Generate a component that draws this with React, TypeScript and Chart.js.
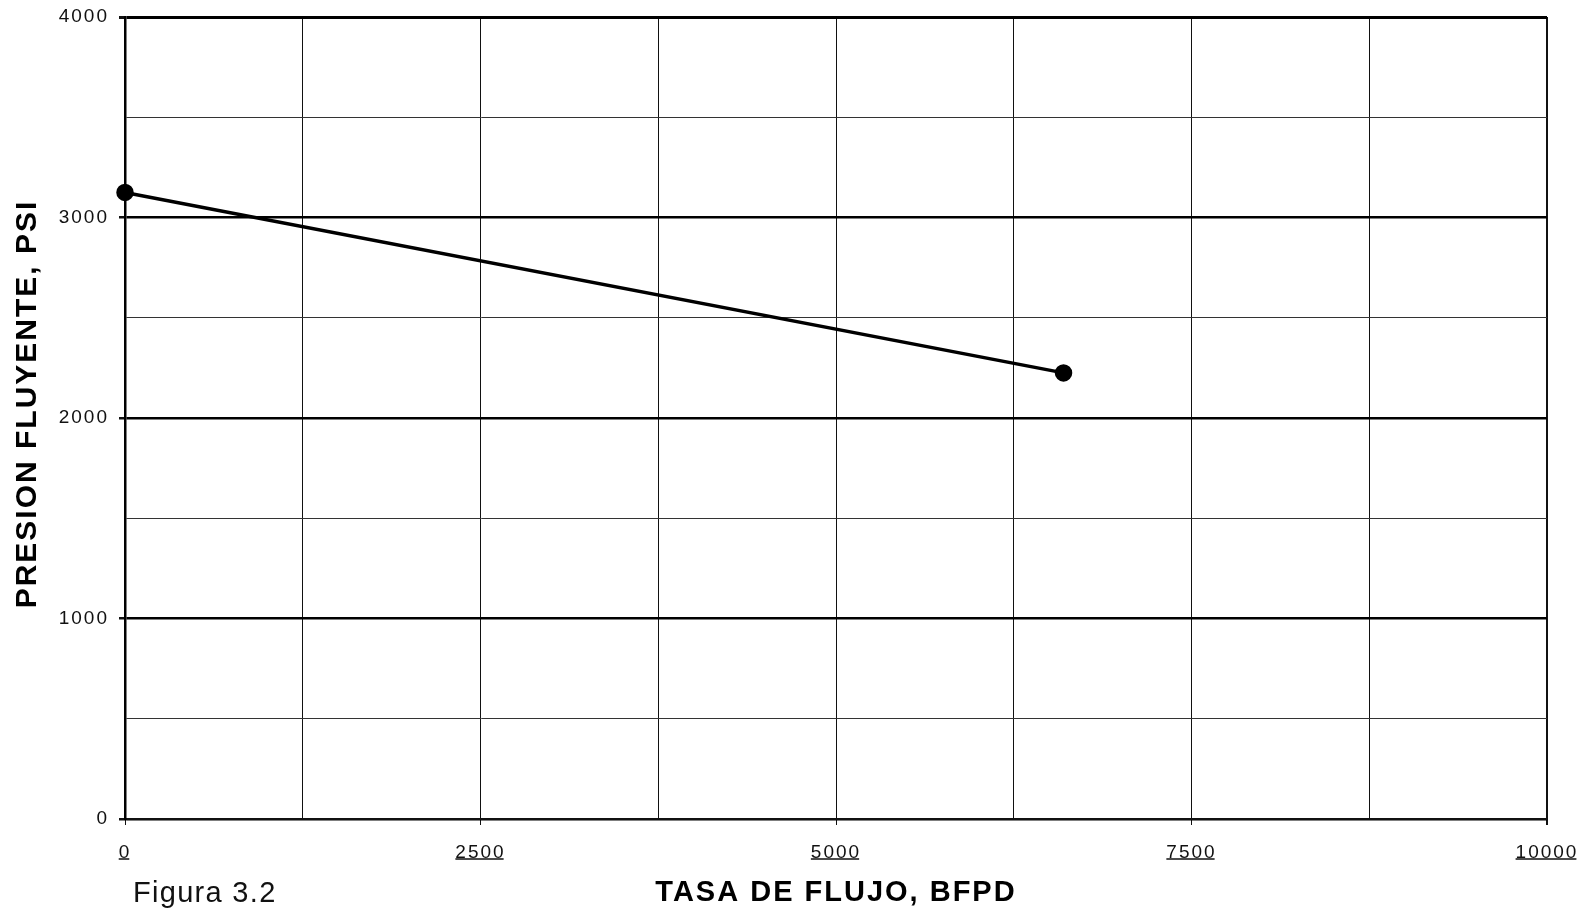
import React, { useEffect, useRef } from 'react';
import { Chart, registerables } from 'chart.js';

Chart.register(...registerables);

// ---- data ----
const rates = [0, 6600];
const pressures = [3125, 2225];
const xTickLabels = [0, 2500, 5000, 7500, 10000];
const yTickLabels = [0, 1000, 2000, 3000, 4000];
const xTitle = 'TASA DE FLUJO, BFPD';
const yTitle = 'PRESION FLUYENTE, PSI';
const caption = 'Figura 3.2';

const FONT = '"Liberation Sans", Arial, Helvetica, sans-serif';

const decorPlugin = {
  id: 'decor',
  beforeDraw(chart: any) {
    chart.ctx.letterSpacing = '2px';
  },
  afterDraw(chart: any) {
    const xs = chart.scales.x;
    const ctx = chart.ctx;
    ctx.save();
    ctx.font = `19px ${FONT}`;
    ctx.letterSpacing = '2px';
    ctx.strokeStyle = '#111';
    ctx.lineWidth = 1.5;
    xs.ticks.forEach((t: any, i: number) => {
      if (!xTickLabels.includes(t.value)) return;
      const label = String(t.value);
      const w = ctx.measureText(label).width - 2;
      const cx = xs.getPixelForTick(i) - 1;
      const y = chart.chartArea.bottom + 40;
      ctx.beginPath();
      ctx.moveTo(cx - w / 2, y);
      ctx.lineTo(cx + w / 2, y);
      ctx.stroke();
    });
    ctx.restore();

    // y-axis title
    const ca = chart.chartArea;
    ctx.save();
    ctx.font = `bold 30px ${FONT}`;
    ctx.letterSpacing = '2px';
    ctx.fillStyle = '#000';
    ctx.textAlign = 'center';
    ctx.textBaseline = 'middle';
    ctx.translate(28, (ca.top + ca.bottom) / 2 - 14);
    ctx.rotate(-Math.PI / 2);
    ctx.fillText(yTitle, 0, 0);
    ctx.restore();
  },
};

export default function App() {
  const ref = useRef<HTMLCanvasElement | null>(null);

  useEffect(() => {
    if (!ref.current) return;
    const chart = new Chart(ref.current, {
      type: 'line',
      data: {
        datasets: [
          {
            data: rates.map((r, i) => ({ x: r, y: pressures[i] })),
            borderColor: '#000',
            backgroundColor: '#000',
            borderWidth: 3.5,
            pointRadius: 7,
            pointHoverRadius: 7,
            pointBackgroundColor: '#000',
            pointBorderColor: '#000',
            tension: 0,
            clip: false as any,
          },
        ],
      },
      options: {
        animation: false,
        responsive: true,
        maintainAspectRatio: false,
        layout: { padding: { top: 17, right: 44, left: 0, bottom: 0 } },
        plugins: {
          legend: { display: false },
          tooltip: { enabled: false },
        },
        scales: {
          x: {
            type: 'linear',
            min: 0,
            max: 10000,
            afterFit(s: any) {
              s.height = 93;
              s.paddingLeft = 0;
              s.paddingRight = 0;
            },
            ticks: {
              stepSize: 1250,
              autoSkip: false,
              maxRotation: 0,
              padding: 16,
              color: '#111',
              font: { family: FONT, size: 19 },
              callback: (v: any) => (xTickLabels.includes(Number(v)) ? String(v) : ''),
            },
            grid: {
              color: '#111',
              lineWidth: (c: any) => (c.tick && c.tick.value === 10000 ? 2 : 1),
              tickLength: 6,
              tickColor: (c: any) =>
                c.tick && xTickLabels.includes(c.tick.value) ? '#111' : 'rgba(0,0,0,0)',
            },
            border: { color: '#111', width: 2 },
            title: {
              display: true,
              text: xTitle,
              color: '#000',
              font: { family: FONT, size: 29, weight: 'bold', lineHeight: 1 },
              padding: { top: 0, bottom: 5 },
            },
          },
          y: {
            type: 'linear',
            min: 0,
            max: 4000,
            afterFit(s: any) {
              s.width = 125;
              s.paddingTop = 0;
              s.paddingBottom = 0;
            },
            ticks: {
              stepSize: 500,
              autoSkip: false,
              padding: 10,
              color: '#111',
              font: { family: FONT, size: 19 },
              callback: (v: any) => (yTickLabels.includes(Number(v)) ? String(v) : ''),
            },
            grid: {
              color: (c: any) => (c.tick && c.tick.value % 1000 === 0 ? '#000' : '#333'),
              lineWidth: (c: any) =>
                c.tick && c.tick.value === 4000 ? 3 : c.tick && c.tick.value % 1000 === 0 ? 2.5 : 1,
              tickLength: 6,
              tickColor: (c: any) =>
                c.tick && yTickLabels.includes(c.tick.value) ? '#111' : 'rgba(0,0,0,0)',
            },
            border: { color: '#000', width: 2.5 },
            title: { display: false },
          },
        },
      },
      plugins: [decorPlugin],
    });
    return () => chart.destroy();
  }, []);

  return (
    <div style={{ position: 'fixed', left: 0, top: 0, width: 1591, height: 912, background: '#fff' }}>
      <canvas ref={ref} />
      <div
        style={{
          position: 'absolute',
          left: 133,
          top: 878,
          fontFamily: FONT,
          fontSize: 29,
          lineHeight: '29px',
          letterSpacing: '1.3px',
          color: '#111',
          whiteSpace: 'nowrap',
        }}
      >
        {caption}
      </div>
    </div>
  );
}
